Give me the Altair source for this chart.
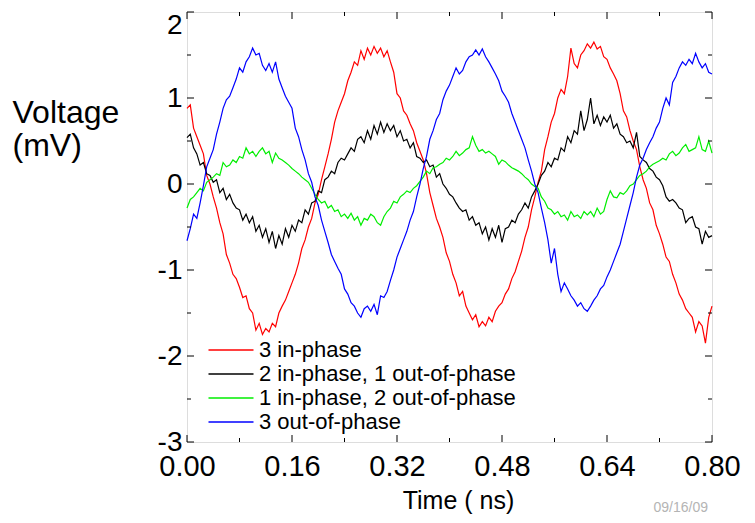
import altair as alt
import pandas as pd

# sampling grid (ns)
t_ns = [round(i * 0.005, 3) for i in range(161)]

series_names = [
    "3 in-phase",
    "2 in-phase, 1 out-of-phase",
    "1 in-phase, 2 out-of-phase",
    "3 out-of-phase",
]
series_colors = ["#ff0000", "#000000", "#00ee00", "#0000ff"]

red = [
    0.88, 0.92, 0.65, 0.55, 0.45, 0.35, 0.10, 0.00, -0.15, -0.28,
    -0.45, -0.58, -0.82, -0.92, -1.05, -1.10, -1.20, -1.32, -1.30, -1.45,
    -1.50, -1.70, -1.62, -1.75, -1.68, -1.72, -1.62, -1.66, -1.50, -1.42,
    -1.35, -1.25, -1.15, -1.05, -0.92, -0.75, -0.65, -0.50, -0.40, -0.22,
    -0.12, 0.05, 0.20, 0.35, 0.52, 0.72, 0.85, 0.95, 1.05, 1.20,
    1.30, 1.42, 1.38, 1.55, 1.45, 1.58, 1.50, 1.60, 1.52, 1.58,
    1.48, 1.55, 1.42, 1.30, 1.05, 1.00, 0.85, 0.80, 0.70, 0.62,
    0.48, 0.38, 0.28, 0.12, -0.10, -0.25, -0.40, -0.50, -0.62, -0.80,
    -0.90, -1.05, -1.15, -1.30, -1.25, -1.42, -1.50, -1.58, -1.52, -1.66,
    -1.60, -1.65, -1.55, -1.60, -1.48, -1.42, -1.38, -1.28, -1.22, -1.10,
    -1.02, -0.90, -0.78, -0.62, -0.50, -0.30, -0.15, 0.02, 0.15, 0.40,
    0.55, 0.72, 0.82, 1.00, 1.10, 1.05, 1.25, 1.58, 1.40, 1.35,
    1.50, 1.55, 1.63, 1.58, 1.65, 1.57, 1.60, 1.48, 1.45, 1.35,
    1.28, 1.20, 1.05, 0.85, 0.78, 0.62, 0.50, 0.40, 0.20, 0.05,
    -0.05, -0.22, -0.30, -0.48, -0.58, -0.70, -0.85, -0.90, -1.05, -1.15,
    -1.28, -1.35, -1.45, -1.50, -1.55, -1.72, -1.60, -1.65, -1.85, -1.55,
    -1.42,
]

black = [
    0.54, 0.58, 0.42, 0.35, 0.22, 0.25, 0.12, 0.10, 0.02, 0.05,
    -0.10, -0.05, -0.18, -0.12, -0.22, -0.28, -0.30, -0.42, -0.35, -0.45,
    -0.38, -0.55, -0.48, -0.62, -0.52, -0.68, -0.55, -0.75, -0.60, -0.70,
    -0.52, -0.62, -0.48, -0.55, -0.42, -0.45, -0.30, -0.35, -0.22, -0.20,
    -0.08, -0.10, 0.05, 0.08, 0.15, 0.12, 0.25, 0.30, 0.28, 0.35,
    0.42, 0.38, 0.52, 0.55, 0.48, 0.62, 0.52, 0.68, 0.58, 0.72,
    0.60, 0.70, 0.62, 0.68, 0.55, 0.62, 0.50, 0.52, 0.42, 0.48,
    0.32, 0.30, 0.25, 0.28, 0.20, 0.22, 0.08, 0.12, 0.00, -0.05,
    -0.12, -0.15, -0.22, -0.28, -0.32, -0.30, -0.42, -0.38, -0.48, -0.45,
    -0.58, -0.50, -0.65, -0.52, -0.62, -0.48, -0.68, -0.52, -0.50, -0.42,
    -0.45, -0.35, -0.30, -0.22, -0.28, -0.15, -0.08, 0.00, 0.10, 0.15,
    0.25, 0.20, 0.30, 0.28, 0.42, 0.38, 0.55, 0.48, 0.62, 0.58,
    0.85, 0.62, 0.75, 1.00, 0.70, 0.80, 0.68, 0.78, 0.72, 0.80,
    0.65, 0.70, 0.58, 0.55, 0.48, 0.50, 0.42, 0.60, 0.32, 0.28,
    0.25, 0.18, 0.15, 0.08, 0.05, -0.02, -0.15, -0.20, -0.18, -0.22,
    -0.28, -0.30, -0.45, -0.40, -0.38, -0.50, -0.52, -0.70, -0.55, -0.62,
    -0.60,
]

green = [
    -0.28, -0.18, -0.15, -0.10, -0.05, -0.08, 0.02, 0.05, 0.08, 0.12,
    0.10, 0.25, 0.20, 0.22, 0.28, 0.25, 0.32, 0.30, 0.42, 0.35,
    0.38, 0.32, 0.38, 0.42, 0.35, 0.38, 0.25, 0.36, 0.30, 0.28,
    0.25, 0.22, 0.18, 0.15, 0.12, 0.08, 0.05, 0.02, -0.05, -0.12,
    -0.18, -0.22, -0.20, -0.28, -0.25, -0.32, -0.30, -0.38, -0.35, -0.40,
    -0.34, -0.42, -0.38, -0.48, -0.40, -0.42, -0.35, -0.38, -0.45, -0.48,
    -0.38, -0.32, -0.28, -0.20, -0.22, -0.15, -0.12, -0.08, -0.10, -0.05,
    -0.02, 0.03, 0.08, 0.15, 0.12, 0.19, 0.20, 0.23, 0.25, 0.30,
    0.28, 0.32, 0.38, 0.33, 0.36, 0.40, 0.42, 0.55, 0.45, 0.38,
    0.40, 0.36, 0.38, 0.35, 0.32, 0.23, 0.28, 0.26, 0.22, 0.19,
    0.17, 0.15, 0.12, 0.08, 0.05, 0.00, -0.03, -0.05, -0.15, -0.20,
    -0.28, -0.30, -0.35, -0.32, -0.38, -0.36, -0.42, -0.32, -0.38, -0.36,
    -0.40, -0.32, -0.36, -0.32, -0.38, -0.28, -0.35, -0.32, -0.18, -0.08,
    -0.15, -0.16, -0.10, -0.12, -0.08, -0.02, 0.00, 0.05, 0.10, 0.12,
    0.15, 0.20, 0.23, 0.25, 0.27, 0.30, 0.28, 0.35, 0.38, 0.33,
    0.36, 0.42, 0.46, 0.38, 0.40, 0.42, 0.55, 0.40, 0.38, 0.50,
    0.36,
]

blue = [
    -0.66, -0.52, -0.35, -0.40, -0.22, -0.02, 0.20, 0.30, 0.40, 0.58,
    0.72, 0.88, 0.98, 1.02, 1.12, 1.22, 1.35, 1.30, 1.42, 1.48,
    1.58, 1.50, 1.52, 1.38, 1.32, 1.40, 1.30, 1.42, 1.22, 1.12,
    1.02, 0.95, 0.88, 0.65, 0.55, 0.40, 0.28, 0.12, 0.02, -0.15,
    -0.25, -0.42, -0.55, -0.68, -0.82, -0.90, -0.98, -1.05, -1.22, -1.28,
    -1.38, -1.42, -1.50, -1.55, -1.45, -1.42, -1.48, -1.40, -1.52, -1.30,
    -1.32, -1.25, -1.12, -1.00, -0.85, -0.75, -0.65, -0.55, -0.42, -0.32,
    -0.15, 0.00, 0.18, 0.32, 0.52, 0.62, 0.75, 0.82, 0.98, 1.08,
    1.15, 1.25, 1.35, 1.28, 1.32, 1.42, 1.48, 1.50, 1.56, 1.50,
    1.57, 1.48, 1.42, 1.35, 1.28, 1.20, 1.08, 1.02, 0.95, 0.82,
    0.72, 0.62, 0.52, 0.42, 0.28, 0.15, 0.00, -0.10, -0.28, -0.45,
    -0.65, -0.92, -0.75, -1.05, -1.25, -1.15, -1.22, -1.30, -1.35, -1.42,
    -1.38, -1.45, -1.48, -1.42, -1.35, -1.30, -1.22, -1.18, -1.08, -1.00,
    -0.90, -0.80, -0.70, -0.55, -0.40, -0.25, -0.10, 0.08, 0.22, 0.30,
    0.40, 0.48, 0.55, 0.65, 0.72, 0.88, 1.00, 0.92, 1.18, 1.25,
    1.35, 1.42, 1.38, 1.45, 1.40, 1.52, 1.42, 1.35, 1.40, 1.30,
    1.28,
]

x_major = [0.0, 0.16, 0.32, 0.48, 0.64, 0.80]
x_minor = [0.08, 0.24, 0.40, 0.56, 0.72]
y_major = [-3, -2, -1, 0, 1, 2]
y_minor = [-2.5, -1.5, -0.5, 0.5, 1.5]
date_stamp = ["09/16/09"]

FONT = "Liberation Sans"
W, H = 525, 430

rows = []
for k, (name, vals) in enumerate(zip(series_names, [red, black, green, blue])):
    for t, v in zip(t_ns, vals):
        rows.append({"t": t, "v": v, "series": name, "k": k})
df = pd.DataFrame(rows)

xs = alt.Scale(domain=[0, 0.8], nice=False, zero=False)
ys = alt.Scale(domain=[-3, 2], nice=False, zero=False)

x_axis = alt.Axis(
    values=x_major, labelExpr="format(datum.value, '.2f')",
    labelFontSize=29, labelPadding=10, labelFont=FONT, labelColor="black",
    ticks=False, tickSize=0, domain=False, grid=False,
    labelFlush=False, labelOverlap=False,
    title="Time ( ns)", titleFontSize=25, titleFontWeight="normal", titleFont=FONT,
    titleColor="black", titleX=271, titleY=66, titleBaseline="alphabetic",
    titleAlign="center")
y_axis = alt.Axis(
    values=y_major, labelExpr="'' + datum.value",
    labelFontSize=28, labelPadding=5, labelFont=FONT, labelColor="black",
    labelOffset={"condition": {"test": "datum.value == 2", "value": 13}, "value": 0},
    ticks=False, tickSize=0, domain=False, grid=False,
    labelFlush=False, labelOverlap=False,
    title=["Voltage", "(mV)"], titleAngle=0, titleAlign="left",
    titleBaseline="alphabetic", titleX=-175, titleY=110,
    titleFontSize=32, titleFontWeight="normal", titleFont=FONT,
    titleColor="black", titleLineHeight=33)

lines = alt.Chart(df).mark_line(strokeWidth=1.2).encode(
    x=alt.X("t:Q", scale=xs, axis=x_axis),
    y=alt.Y("v:Q", scale=ys, axis=y_axis),
    color=alt.Color("series:N",
                    scale=alt.Scale(domain=series_names, range=series_colors),
                    legend=alt.Legend(title=None, orient="none", legendX=33, legendY=327,
                                      symbolType="M-3,0H3", symbolSize=225,
                                      symbolStrokeWidth=1.3, labelFontSize=22,
                                      labelFont=FONT, labelColor="black",
                                      labelOffset=17, rowPadding=2, labelLimit=400)),
    order=alt.Order("k:Q"),
)

def xticks(vals, y0, y1):
    return alt.Chart(pd.DataFrame({"t": vals})).mark_rule(color="black", strokeWidth=1).encode(
        x=alt.X("t:Q", scale=xs, axis=x_axis), y=alt.value(y0), y2=alt.value(y1))

def yticks(vals, x0, x1):
    return alt.Chart(pd.DataFrame({"v": vals})).mark_rule(color="black", strokeWidth=1).encode(
        y=alt.Y("v:Q", scale=ys, axis=y_axis), x=alt.value(x0), x2=alt.value(x1))

ticks = [
    xticks(x_major, H, H - 7), xticks(x_minor, H, H - 4),
    xticks(x_major, 0, 7), xticks(x_minor, 0, 4),
    yticks(y_major, 0, 7), yticks(y_minor, 0, 4),
    yticks(y_major, W, W - 7), yticks(y_minor, W, W - 4),
]

stamp = alt.Chart(pd.DataFrame({"stamp": date_stamp})).mark_text(
    align="right", baseline="alphabetic", fontSize=14, color="#b4b4b4", font=FONT
).encode(text="stamp:N", x=alt.value(521), y=alt.value(500))

chart = alt.layer(lines, *ticks, stamp).properties(
    width=W, height=H,
    autosize=alt.AutoSizeParams(type="none"),
    padding={"left": 179, "top": 4, "right": 35, "bottom": 73},
).configure_view(stroke="black", strokeWidth=1.2).configure(background="white")

chart.save("out.html", embed_options={"renderer": "svg", "actions": False})
